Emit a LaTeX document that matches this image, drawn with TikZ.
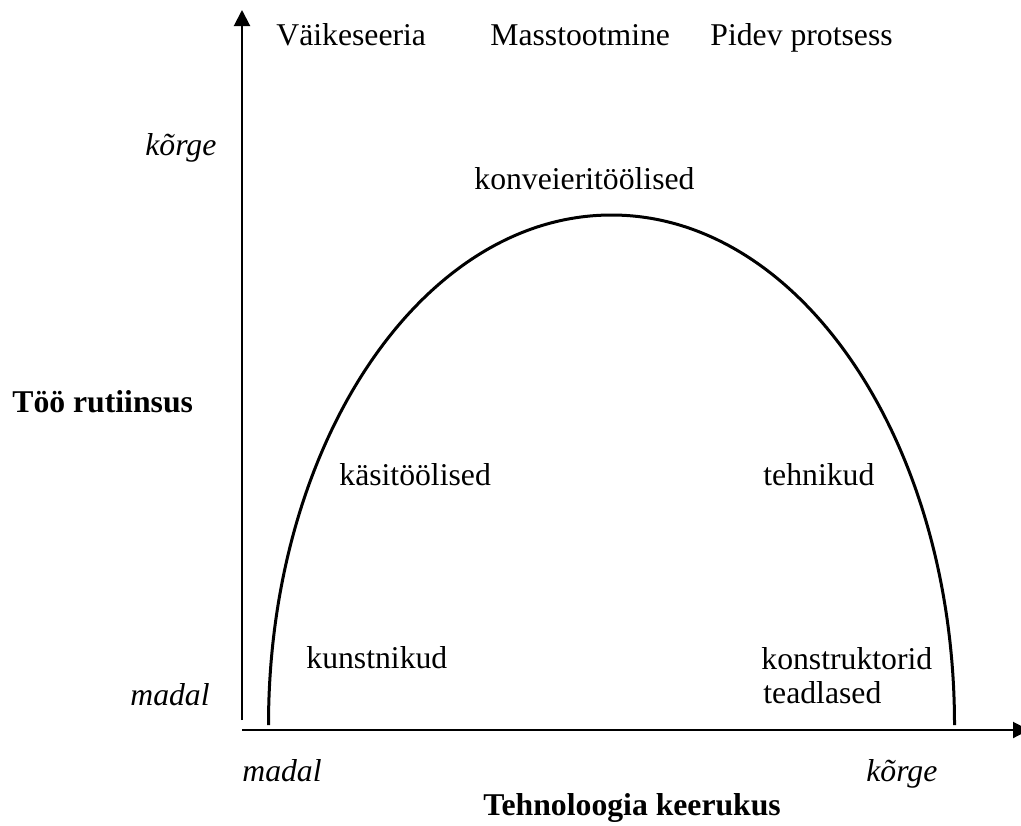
\documentclass[tikz,border=0pt]{standalone}
\usepackage{fontspec}
\setmainfont{Liberation Serif}
\usetikzlibrary{arrows.meta,positioning}

\begin{document}
\begin{tikzpicture}[x=0.5pt,y=-0.5pt,>={Triangle[length=8pt,width=8pt]},
  txt/.style = {inner sep=0pt, anchor=base west, font=\fontsize{15.85}{19}\selectfont},
  lvl/.style = {txt, font=\fontsize{15.85}{19}\selectfont\itshape},
  ttl/.style = {txt, font=\fontsize{15.85}{19}\selectfont\bfseries},]
\useasboundingbox (0,0) rectangle (1021,825);
% axes
\coordinate (O1) at (242,720);
\coordinate (Ytop) at (242,10);
\coordinate (O2) at (242,730);
\coordinate (Xend) at (1029,730);
\draw[line width=1pt,->] (O1)--(Ytop);
\draw[line width=1pt,->] (O2)--(Xend);
% the arch
\coordinate (L) at (268.5,725);
\draw[line width=1.5pt] (L) arc[start angle=180,end angle=360,x radius=343,y radius=510];
% production types
\node (vs) at (276,45)[txt] {Väikeseeria};
\node (mt) at (490,45)[txt] {Masstootmine};
\node (pp) at (710,45)[txt] {Pidev protsess};
% axis levels
\node (yk) at (145,155)[lvl] {kõrge};
\node (ym) at (130,705)[lvl] {madal};
\node (xm) at (242,781)[lvl] {madal};
\node (xk) at (866,781)[lvl] {kõrge};
\node (yt) at (12,412)[ttl] {Töö rutiinsus};
\node (xt) at (483,815)[ttl] {Tehnoloogia keerukus};
% groups
\node (kv) at (474,189)[txt] {konveieritöölised};
\node (ks) at (339,485)[txt] {käsitöölised};
\node (th) at (763,485)[txt] {tehnikud};
\node (kn) at (306,668)[txt] {kunstnikud};
\node (kt) at (761,669)[txt] {konstruktorid};
\node (td) at (763,703)[txt] {teadlased};
\end{tikzpicture}
\end{document}
